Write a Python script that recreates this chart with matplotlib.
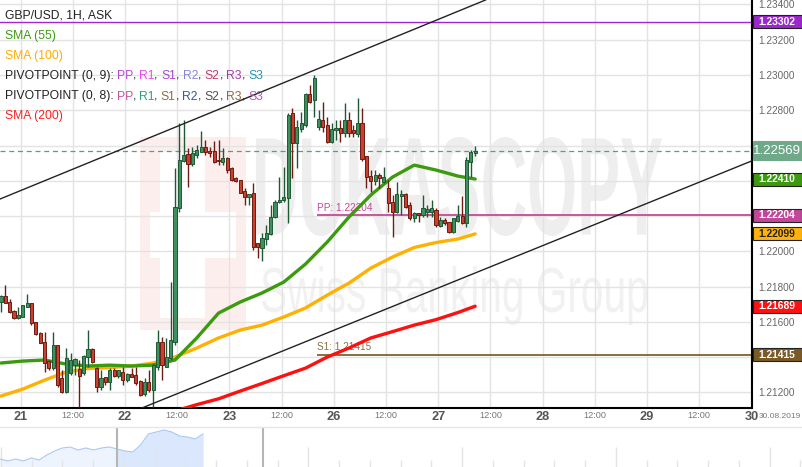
import matplotlib
matplotlib.use('Agg')
import matplotlib.pyplot as plt
import numpy as np
from matplotlib.textpath import TextPath
from matplotlib.patches import PathPatch, Rectangle
from matplotlib.font_manager import FontProperties
from matplotlib.transforms import Affine2D
from matplotlib.lines import Line2D

plt.rcParams['font.family'] = ['Liberation Sans', 'DejaVu Sans']

# hourly GBP/USD ask candles, 20.08 19:00 .. 27.08 08:00 (weekend skipped)
opens = [
    1.21714, 1.21747, 1.21713, 1.21662, 1.21620, 1.21629, 1.21686, 1.21705, 1.21599, 1.21537,
    1.21486, 1.21378, 1.21338, 1.21469, 1.21282, 1.21204, 1.21308, 1.21355, 1.21333, 1.21308,
    1.21402, 1.21444, 1.21337, 1.21229, 1.21286, 1.21261, 1.21327, 1.21293, 1.21318, 1.21270,
    1.21303, 1.21299, 1.21265, 1.21191, 1.21257, 1.21214, 1.21346, 1.21488, 1.21346, 1.21393,
    1.21488, 1.22246, 1.22514, 1.22552, 1.22495, 1.22546, 1.22565, 1.22590, 1.22571, 1.22569,
    1.22518, 1.22508, 1.22531, 1.22472, 1.22417, 1.22404, 1.22340, 1.22306, 1.22329, 1.22047,
    1.22019, 1.22070, 1.22098, 1.22196, 1.22281, 1.22291, 1.22301, 1.22783, 1.22613, 1.22692,
    1.22716, 1.22892, 1.22858, 1.22707, 1.22745, 1.22716, 1.22622, 1.22688, 1.22698, 1.22673,
    1.22745, 1.22688, 1.22664, 1.22729, 1.22541, 1.22427, 1.22400, 1.22431, 1.22395, 1.22357,
    1.22281, 1.22225, 1.22314, 1.22325, 1.22263, 1.22187, 1.22216, 1.22206, 1.22225, 1.22225,
    1.22234, 1.22145, 1.22178, 1.22168, 1.22111, 1.22174, 1.22202, 1.22162, 1.22508, 1.22559,
]
highs = [
    1.21752, 1.21809, 1.21730, 1.21667, 1.21686, 1.21696, 1.21758, 1.21707, 1.21601, 1.21544,
    1.21544, 1.21384, 1.21544, 1.21469, 1.21327, 1.21450, 1.21422, 1.21395, 1.21384, 1.21412,
    1.21554, 1.21450, 1.21346, 1.21327, 1.21289, 1.21337, 1.21337, 1.21327, 1.21346, 1.21308,
    1.21337, 1.21346, 1.21270, 1.21280, 1.21327, 1.21365, 1.21554, 1.21516, 1.21507, 1.21828,
    1.22472, 1.22728, 1.22745, 1.22586, 1.22593, 1.22603, 1.22682, 1.22631, 1.22593, 1.22627,
    1.22631, 1.22584, 1.22533, 1.22480, 1.22423, 1.22404, 1.22357, 1.22325, 1.22386, 1.22047,
    1.22102, 1.22149, 1.22263, 1.22291, 1.22423, 1.22480, 1.22786, 1.22811, 1.22745, 1.22792,
    1.22896, 1.22943, 1.23000, 1.22801, 1.22848, 1.22763, 1.22726, 1.22745, 1.22745, 1.22839,
    1.22792, 1.22716, 1.22868, 1.22811, 1.22541, 1.22461, 1.22461, 1.22442, 1.22480, 1.22404,
    1.22319, 1.22395, 1.22348, 1.22329, 1.22281, 1.22225, 1.22216, 1.22319, 1.22263, 1.22291,
    1.22244, 1.22196, 1.22187, 1.22168, 1.22191, 1.22263, 1.22314, 1.22537, 1.22575, 1.22597,
]
lows = [
    1.21658, 1.21707, 1.21650, 1.21616, 1.21615, 1.21628, 1.21684, 1.21582, 1.21526, 1.21479,
    1.21318, 1.21327, 1.21327, 1.21232, 1.21195, 1.21195, 1.21299, 1.21299, 1.21119, 1.21299,
    1.21346, 1.21366, 1.21204, 1.21214, 1.21242, 1.21214, 1.21289, 1.21280, 1.21242, 1.21261,
    1.21289, 1.21242, 1.21180, 1.21180, 1.21204, 1.21119, 1.21327, 1.21270, 1.21342, 1.21384,
    1.21469, 1.22223, 1.22507, 1.22366, 1.22484, 1.22527, 1.22563, 1.22546, 1.22537, 1.22503,
    1.22489, 1.22489, 1.22446, 1.22400, 1.22395, 1.22329, 1.22263, 1.22263, 1.22008, 1.21960,
    1.21947, 1.22036, 1.22093, 1.22187, 1.22272, 1.22281, 1.22159, 1.22414, 1.22471, 1.22678,
    1.22707, 1.22839, 1.22763, 1.22688, 1.22678, 1.22613, 1.22614, 1.22631, 1.22622, 1.22650,
    1.22650, 1.22650, 1.22650, 1.22514, 1.22357, 1.22338, 1.22376, 1.22357, 1.22386, 1.22225,
    1.22083, 1.22216, 1.22206, 1.22244, 1.22178, 1.22168, 1.22168, 1.22196, 1.22196, 1.22196,
    1.22140, 1.22140, 1.22149, 1.22102, 1.22102, 1.22166, 1.22155, 1.22140, 1.22423, 1.22541,
]
closes = [
    1.21747, 1.21709, 1.21658, 1.21620, 1.21639, 1.21696, 1.21705, 1.21592, 1.21531, 1.21482,
    1.21365, 1.21337, 1.21469, 1.21242, 1.21204, 1.21395, 1.21384, 1.21389, 1.21293, 1.21406,
    1.21444, 1.21374, 1.21229, 1.21280, 1.21261, 1.21327, 1.21293, 1.21327, 1.21270, 1.21304,
    1.21289, 1.21252, 1.21185, 1.21257, 1.21214, 1.21355, 1.21488, 1.21355, 1.21402, 1.21497,
    1.22253, 1.22518, 1.22546, 1.22495, 1.22558, 1.22575, 1.22590, 1.22565, 1.22559, 1.22505,
    1.22515, 1.22529, 1.22461, 1.22404, 1.22400, 1.22332, 1.22306, 1.22325, 1.22026, 1.22023,
    1.22076, 1.22104, 1.22196, 1.22281, 1.22291, 1.22310, 1.22773, 1.22613, 1.22703, 1.22726,
    1.22892, 1.22845, 1.22981, 1.22749, 1.22703, 1.22622, 1.22692, 1.22698, 1.22671, 1.22745,
    1.22669, 1.22669, 1.22729, 1.22522, 1.22420, 1.22400, 1.22433, 1.22414, 1.22423, 1.22272,
    1.22225, 1.22325, 1.22325, 1.22253, 1.22187, 1.22216, 1.22206, 1.22247, 1.22238, 1.22244,
    1.22149, 1.22178, 1.22162, 1.22111, 1.22191, 1.22202, 1.22162, 1.22518, 1.22565, 1.22569,
]

# moving averages, read every 5th candle
sma_idx = list(range(0, 110, 5)) + [109]
sma55 = [1.21367, 1.21378, 1.21384, 1.21361, 1.21350, 1.21355, 1.21350, 1.21355, 1.21384, 1.21509,
         1.21650, 1.21713, 1.21764, 1.21826, 1.21928, 1.22053, 1.22195, 1.22319, 1.22421, 1.22489,
         1.22461, 1.22427, 1.22410]
sma100 = [1.21180, 1.21219, 1.21270, 1.21316, 1.21336, 1.21341, 1.21350, 1.21367, 1.21401, 1.21452,
          1.21509, 1.21554, 1.21582, 1.21628, 1.21679, 1.21752, 1.21820, 1.21905, 1.21968, 1.22022,
          1.22050, 1.22070, 1.22099]
sma200_idx = list(range(40, 110, 5)) + [109]
sma200 = [1.21095, 1.21131, 1.21164, 1.21208, 1.21251, 1.21295, 1.21338, 1.21401, 1.21452, 1.21509,
          1.21545, 1.21582, 1.21613, 1.21653, 1.21689]

pivot_pp = 1.22204
pivot_s1 = 1.21415
pivot_start = 72.7
level_top = 1.23302

# hand drawn channel (candle index, price)
chan_upper = [(0, 1.22299), (110, 1.23411)]
chan_lower = [(32, 1.21108), (160, 1.22387)]

day_labels = ['21', '22', '23', '26', '27', '28', '29', '30']

nav_level = [8, 6, 8, 6, 9, 7, 12, 16, 19, 20, 17, 19, 17, 19, 20, 18, 16, 15, 22, 33,
             35, 37, 35, 31, 30, 28, 33]

W, H = 803, 467
fig = plt.figure(figsize=(W / 100, H / 100), dpi=100)
px = Affine2D().scale(1 / W, 1 / H) + fig.transFigure

ax = fig.add_axes([0, 59 / H, 752 / W, 408 / H])
ax.set_xlim(-0.23, 172.64)
ax.set_ylim(1.21112, 1.23425)

# watermark
def stamp(s, x0, ytop, x1, ybot, color, weight='normal'):
    tp = TextPath((0, 0), s, size=100, prop=FontProperties(family='Liberation Sans', weight=weight))
    e = tp.get_extents()
    tr = Affine2D().translate(-e.x0, -e.y0).scale((x1 - x0) / e.width, (ybot - ytop) / e.height) \
        .translate(x0, H - ybot) + px
    ax.add_patch(PathPatch(tp, transform=tr, fc=color, ec='none', zorder=0.2))

def prect(x0, ytop, x1, ybot, color):
    ax.add_patch(Rectangle((x0, H - ybot), x1 - x0, ybot - ytop, transform=px,
                           fc=color, ec='none', zorder=0.15))

prect(140, 137, 246, 330, '#fdeeee')
prect(160, 152, 205, 318, 'white')
prect(150, 212, 236, 258, 'white')
stamp('DUKASCOPY', 256, 137, 662, 236, '#eeeeee', 'bold')
stamp('Swiss Banking Group', 262, 266, 647, 325, '#f1f1f1')

# price tags on the right axis (value, background, text colour, big)
tags = [
    (level_top, '#9c27cc', 'white', False),
    (closes[-1], '#6fa98a', 'white', True),
    (sma55[-1], '#3d9a10', 'white', False),
    (pivot_pp, '#c2469a', 'white', False),
    (sma100[-1], '#ffb20c', '#222222', False),
    (sma200[-1], '#ff1111', 'white', False),
    (pivot_s1, '#7a5a26', 'white', False),
]

# grid / axes
day_pos = [4.5 + 24 * k for k in range(8)]
half_pos = [16.5 + 24 * k for k in range(7)]
ax.set_xticks(day_pos + half_pos)
ax.set_xticklabels(day_labels + ['12:00'] * 7)
for lab in ax.get_xticklabels():
    if lab.get_text() == '12:00':
        lab.set_fontsize(6.6)
        lab.set_color('#777777')
    else:
        lab.set_fontsize(9.2)
        lab.set_fontweight('bold')
        lab.set_color('#555555')
ax.tick_params(axis='x', length=0, pad=2)

# y labels that sit under a price tag are hidden, as on the platform
yt = np.arange(1.212, 1.2341, 0.002)
ax.yaxis.tick_right()
ax.set_yticks(yt)
ylabs = []
for v in yt:
    covered = any(abs(v - t[0]) < 0.00042 for t in tags)
    ylabs.append('' if covered else '%.5f' % v)
ax.set_yticklabels(ylabs)
ax.tick_params(axis='y', length=0, pad=4.5, labelsize=7.2, labelcolor='#666666')
ax.grid(True, color='#e3e3e3', lw=1)
ax.set_axisbelow(True)
for s in ['top', 'left']:
    ax.spines[s].set_visible(False)
for s in ['right', 'bottom']:
    ax.spines[s].set_linewidth(1.5)
    ax.spines[s].set_color('black')

# horizontal levels
ax.axhline(level_top, color='#a326d6', lw=1, zorder=2)
ax.axhline(closes[-1], color='#5d9e77', lw=0.9, ls=(0, (4, 3)), zorder=2)
ax.hlines(pivot_pp, pivot_start, 172.64, color='#c04c96', lw=1.3, zorder=2)
ax.hlines(pivot_s1, pivot_start, 172.64, color='#7d6330', lw=1.3, zorder=2)
ax.annotate('PP: %.5f' % pivot_pp, (pivot_start, pivot_pp), xytext=(0, 1.5), textcoords='offset points',
            color='#c04c96', fontsize=7.2, va='bottom', zorder=2)
ax.annotate('S1: %.5f' % pivot_s1, (pivot_start, pivot_s1), xytext=(0, 1.5), textcoords='offset points',
            color='#8a7142', fontsize=7.2, va='bottom', zorder=2)

# moving averages
ax.plot(sma_idx, sma100, color='#ffb000', lw=2.4, zorder=3, solid_capstyle='round')
ax.plot(sma200_idx, sma200, color='#ff1010', lw=2.4, zorder=3, solid_capstyle='round')
ax.plot(sma_idx, sma55, color='#3c9a0e', lw=2.4, zorder=3, solid_capstyle='round')

# candles
o = np.array(opens)
h = np.array(highs)
l = np.array(lows)
c = np.array(closes)
xi = np.arange(len(o))
up = c >= o
edge = np.where(up, '#1d5a33', '#6e1b12')
fill = np.where(up, '#3f8f5f', '#c8412f')
ax.vlines(xi, l, h, colors=edge, lw=1, zorder=4)
ax.bar(xi, np.maximum(np.abs(c - o), 0.00003), bottom=np.minimum(o, c), width=0.72,
       color=fill, edgecolor=edge, lw=0.7, zorder=5)

# channel
ax.axline(chan_upper[0], chan_upper[1], color='#222222', lw=1, zorder=6)
ax.axline(chan_lower[0], chan_lower[1], color='#222222', lw=1, zorder=6)

for val, bg, fg, big in tags:
    yd = ax.transData.transform((0, val))[1]
    bh = 19 if big else 13
    fig.add_artist(Rectangle((753, yd - bh / 2), 49, bh, transform=px, fc=bg,
                             ec=bg if big else '#222222', lw=0.8, zorder=4))
    fig.text(777 / W, yd / H, '%.5f' % val, color=fg, fontsize=9.5 if big else 7.4,
             fontweight='normal' if big else 'bold', ha='center', va='center', zorder=5)

fig.text(759 / W, 1 - 416 / H, '30.08.2019', color='#777777', fontsize=6.0, va='center', ha='left')

# legend rows with coloured parts
rend = fig.canvas.get_renderer()
lprop = FontProperties(family='Liberation Sans', size=8.7)

def wid(s):
    return rend.get_text_width_height_descent(s, lprop, ismath=False)[0]

def row(y_px, parts):
    base = wid('|')
    prefix = ''
    for s, col in parts:
        x = 5 + (wid(prefix + '|') - base if prefix else 0)
        fig.text(x / W, 1 - y_px / H, s, color=col, fontsize=8.7, va='center', ha='left')
        prefix += s

def pivot_parts(title, cols):
    names = ['PP', 'R1', 'S1', 'R2', 'S2', 'R3', 'S3']
    parts = [(title, '#222222')]
    for k, (n, cc) in enumerate(zip(names, cols)):
        if k:
            parts.append((', ', '#222222'))
        parts.append((n, cc))
    return parts

row(15, [('GBP/USD, 1H, ASK', '#222222')])
row(35.5, [('SMA (55)', '#3d9a10')])
row(56, [('SMA (100)', '#ffab00')])
row(76, pivot_parts('PIVOTPOINT (0, 9): ',
                    ['#b746d8', '#e84de8', '#a546c8', '#8a85dc', '#c23b6e', '#a43aa8', '#2c94b4']))
row(96.5, pivot_parts('PIVOTPOINT (0, 8): ',
                      ['#c0559e', '#2aa37a', '#8d6e3a', '#3b55a4', '#5e4a5a', '#94683a', '#c84ac8']))
row(116.5, [('SMA (200)', '#ff2020')])

# navigator strip
nav = fig.add_axes([0, 0, 1, 40 / H])
nav.set_xlim(0, W)
nav.set_ylim(0, 40)
nav.axis('off')
fig.add_artist(Line2D([0, 1], [40 / H, 40 / H], transform=fig.transFigure, color='#e6e6e6', lw=1))
tick_x = 1 + 30.75 * np.arange(27)
nav.vlines(tick_x, 0, np.where(np.arange(27) % 5 == 0, 20, 7), color='#e4e4e4', lw=1)
nx = np.linspace(0, 203, len(nav_level))
nav.fill_between(nx, 0, nav_level, color='#eef4fe', lw=0)
dark = nav.fill_between(nx, 0, nav_level, color='#dbe7fc', lw=0)
dark.set_clip_path(Rectangle((117, 0), 86, 40, transform=nav.transData))
nav.plot(nx, nav_level, color='#a9c7f5', lw=0.8)
nav.axvline(117, color='#b5b5b5', lw=1.5)
nav.axvline(263, color='#b5b5b5', lw=1.5)

fig.savefig('out.png', dpi=100)
